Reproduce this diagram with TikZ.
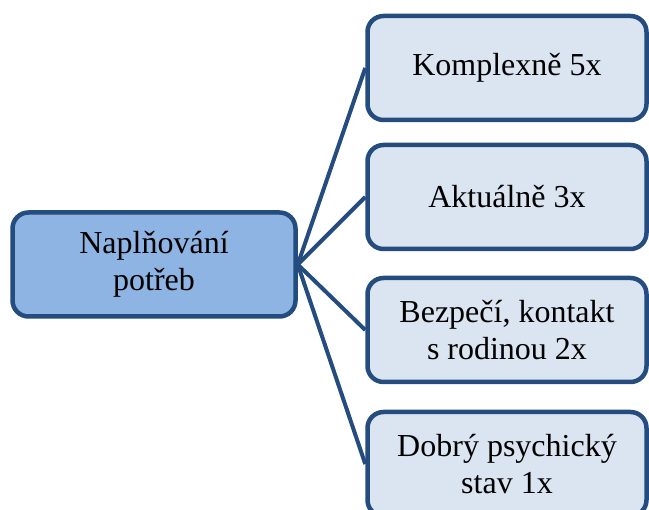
\documentclass[tikz,border=0pt]{standalone}
\usepackage{fontspec}
\setmainfont{Liberation Serif}
\definecolor{edgeblue}{RGB}{36,76,126}
\definecolor{darkfill}{RGB}{142,180,227}
\definecolor{lightfill}{RGB}{219,229,241}
\begin{document}
\begin{tikzpicture}[x=1pt,y=-1pt,
  box/.style={draw=edgeblue, line width=4.5pt, rounded corners=16pt, align=center,
    font=\fontsize{32}{37}\selectfont, inner sep=0pt},
  rootbox/.style={box, fill=darkfill, minimum width=283pt, minimum height=104pt},
  leafbox/.style={box, fill=lightfill, minimum width=279pt, minimum height=104pt},
  link/.style={draw=edgeblue, line width=4pt}]
\useasboundingbox (0,0) rectangle (649,510);
\node[rootbox] (root) at (154,264.5) {Naplňování\\potřeb};
\node[leafbox] (a) at (507,68) {Komplexně 5x};
\node[leafbox] (b) at (507,197) {Aktuálně 3x};
\node[leafbox] (c) at (507,330) {Bezpečí, kontakt\\s rodinou 2x};
\node[leafbox] (d) at (507,464) {Dobrý psychický\\stav 1x};
\draw[link] (root.east) -- (a.west);
\draw[link] (root.east) -- (b.west);
\draw[link] (root.east) -- (c.west);
\draw[link] (root.east) -- (d.west);
\end{tikzpicture}
\end{document}
